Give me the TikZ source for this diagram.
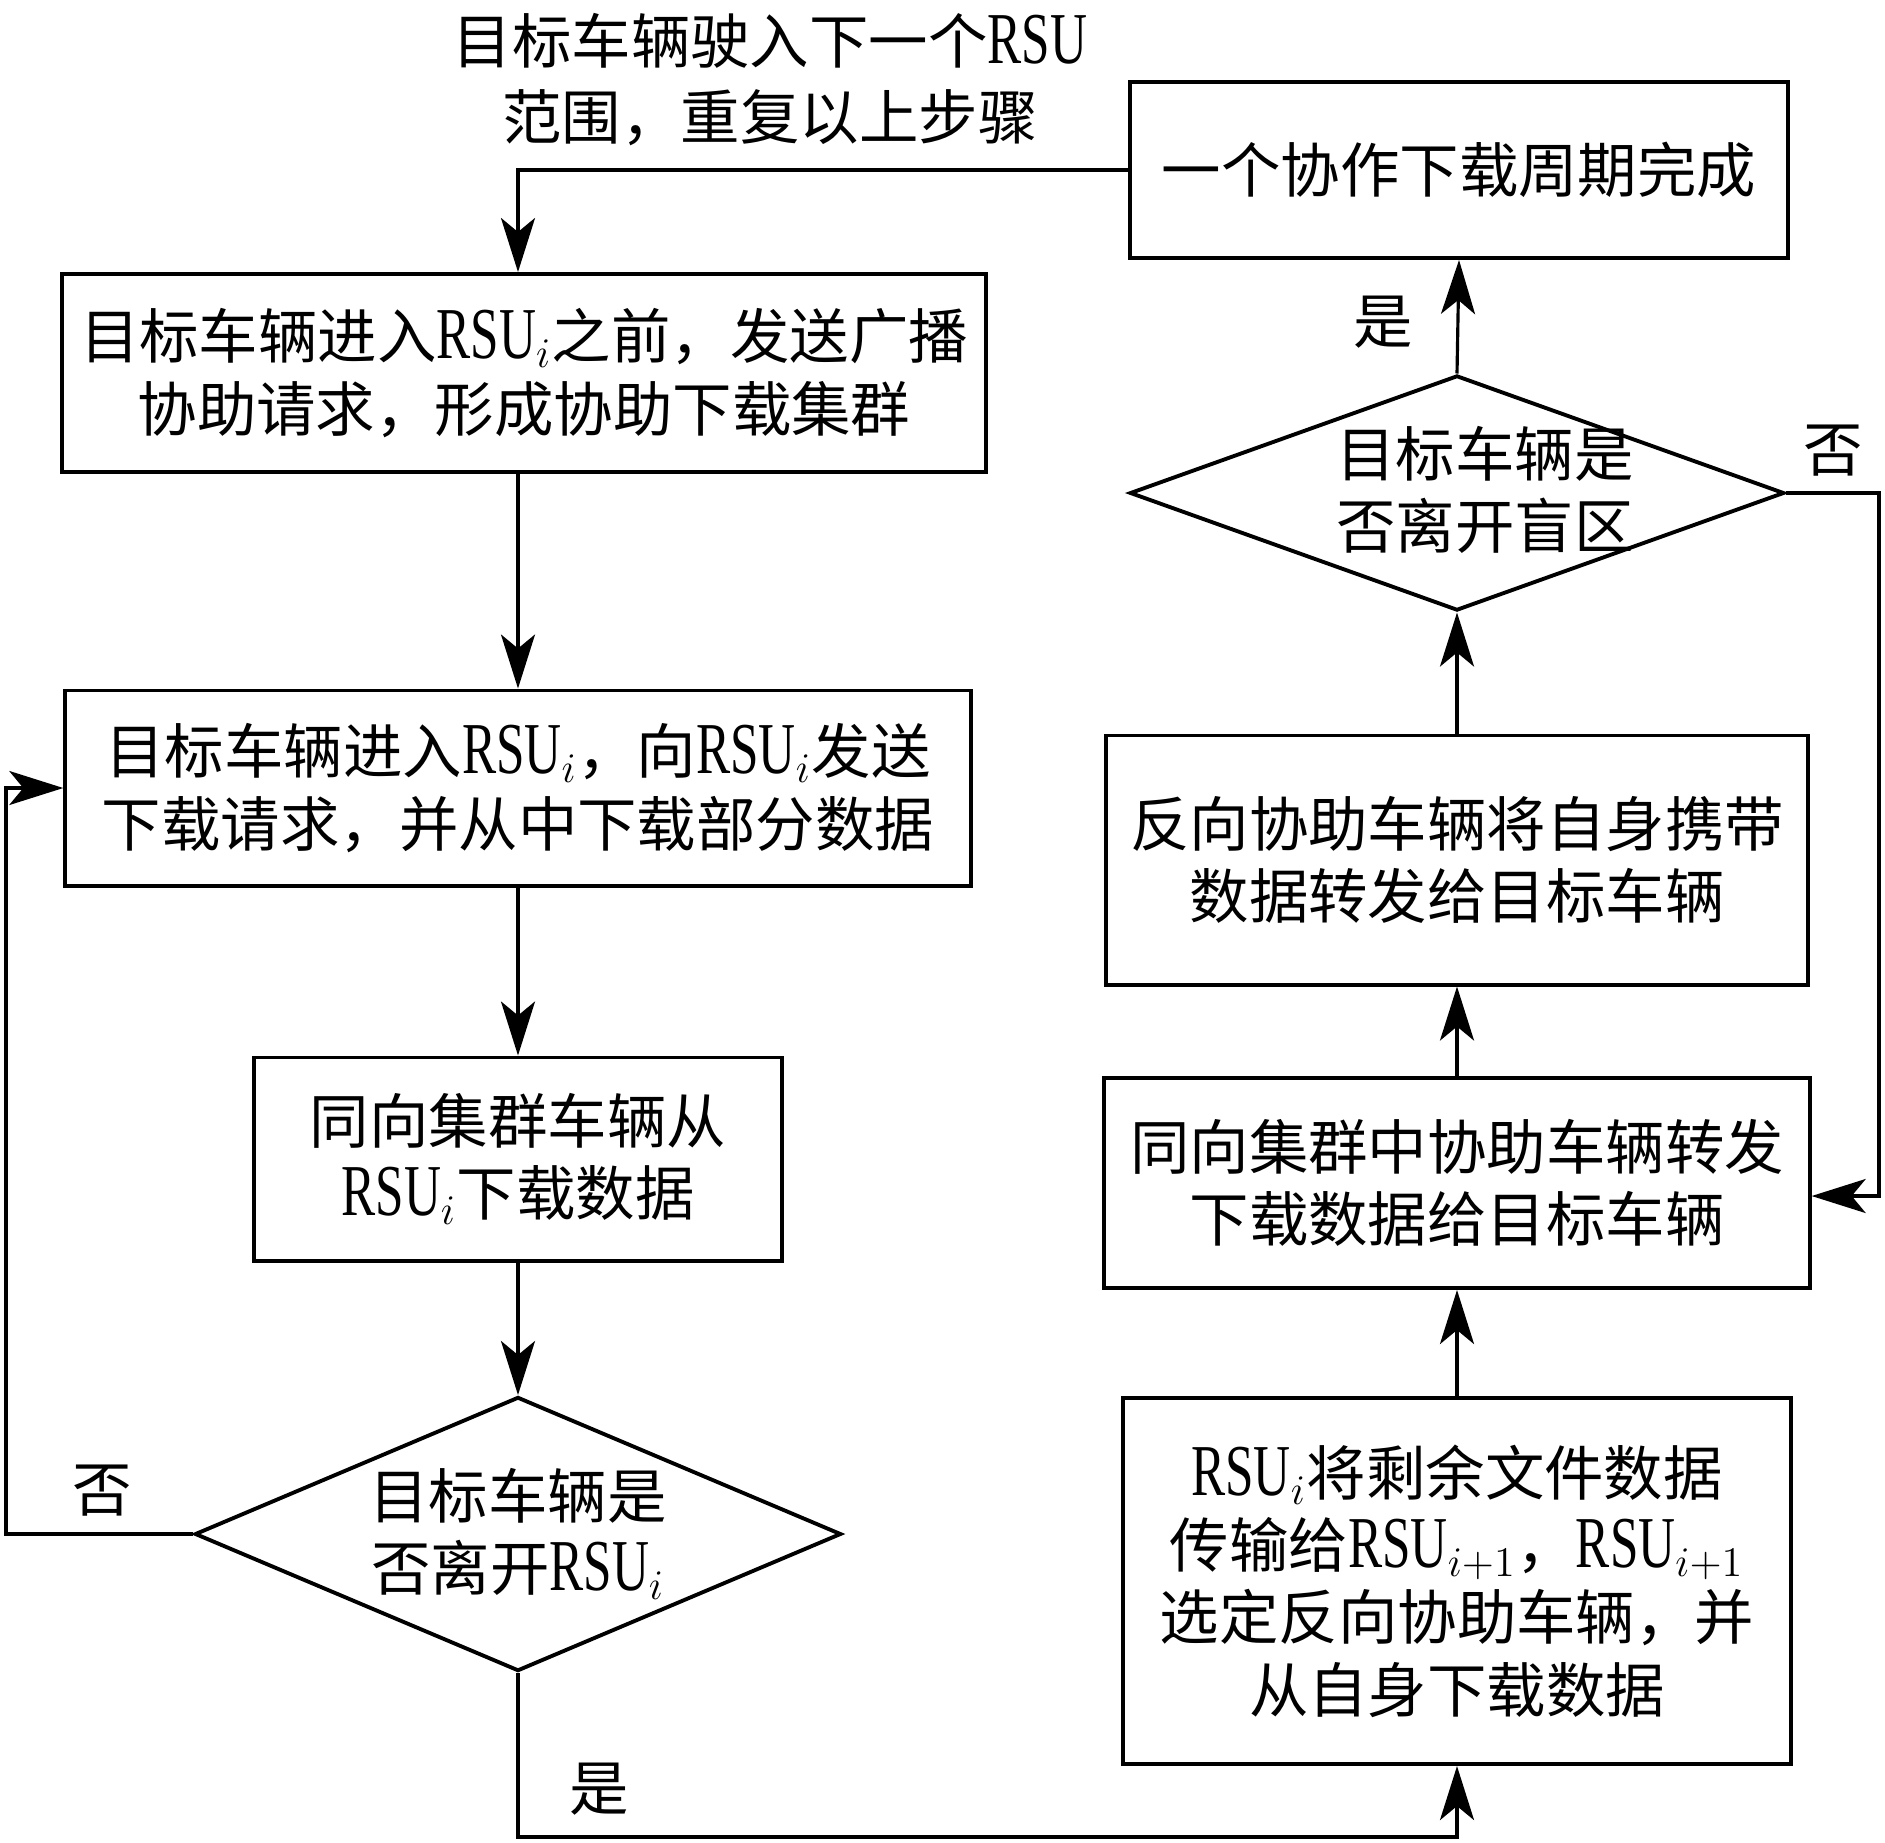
\documentclass[tikz,border=0pt]{standalone}
\usepackage{fontspec}
\setmainfont{Noto Sans CJK SC}
\newfontfamily\tms[Scale=1.23,FakeStretch=0.7]{Liberation Serif}
\usetikzlibrary{arrows.meta, positioning, shapes.geometric, calc}
\newcommand{\rsu}[1]{{\tms RSU}$_{#1}$}

\begin{document}
\begin{tikzpicture}[
        x=0.01cm, y=-0.01cm,
        every node/.style={font=\fontsize{16.9pt}{20.6pt}\selectfont, align=center, inner sep=0pt},
        box/.style={draw, line width=1.1pt},
        decide/.style={diamond, draw, line width=1.1pt, aspect=2.36},
        arr/.style={line width=0.9pt, -{Stealth[length=5.4mm, width=3.4mm, inset=1.4mm]}}
    ]
        \useasboundingbox (0,0) rectangle (1885,1842);

        % Cột trái
        \node (note) at (770,80) {目标车辆驶入下一个{\tms RSU}\\[1pt]范围，重复以上步骤};
        \node [box, minimum width=9.23cm, minimum height=1.98cm](A) at (524,373)
            {目标车辆进入\rsu{i}之前，发送广播\\协助请求，形成协助下载集群};
        \node [box, minimum width=9.05cm, minimum height=1.95cm](B) at (518,788)
            {目标车辆进入\rsu{i}，向\rsu{i}发送\\下载请求，并从中下载部分数据};
        \node [box, minimum width=5.28cm, minimum height=2.03cm](C) at (518,1159)
            {同向集群车辆从\\\rsu{i}下载数据};
        \node [decide, minimum width=6.46cm, minimum height=2.74cm](D1) at (518,1534)
            {目标车辆是\\否离开\rsu{i}};

        % Cột phải
        \node [box, minimum width=6.67cm, minimum height=3.66cm](E) at (1457,1581)
            {\rsu{i}将剩余文件数据\\传输给\rsu{i+1}，\rsu{i+1}\\选定反向协助车辆，并\\从自身下载数据};
        \node [box, minimum width=7.05cm, minimum height=2.10cm](F) at (1457,1183)
            {同向集群中协助车辆转发\\下载数据给目标车辆};
        \node [box, minimum width=7.02cm, minimum height=2.49cm](G) at (1457,860)
            {反向协助车辆将自身携带\\数据转发给目标车辆};
        \node [decide, minimum width=6.54cm, minimum height=2.35cm](D2) at (1457,493) {};
        \node (D2text) at (1485,490) {目标车辆是\\否离开盲区};
        \node [box, minimum width=6.58cm, minimum height=1.76cm](done) at (1459,170)
            {一个协作下载周期完成};

        % Nhãn
        \node (yes2) at (1383,322) {是};
        \node (no2) at (1833,451) {否};
        \node (no1) at (102,1491) {否};
        \node (yes1) at (599,1789) {是};

        \coordinate (lx) at (6,0);
        \coordinate (by) at (0,1837);
        \coordinate (rx) at (1879,1196);

        % Các mũi tên
        \draw[arr] (done.west) -| (B.north |- A.north);
        \draw[arr] (A.south -| B) -- (B.north);
        \draw[arr] (B.south) -- (C.north);
        \draw[arr] (C.south) -- (D1.north);
        \draw[arr] (D1.west) -- (D1.west -| lx) |- (B.west);
        \draw[arr] (D1.south) |- (by -| E) -- (E.south);
        \draw[arr] (E.north) -- (F.south);
        \draw[arr] (F.north) -- (G.south);
        \draw[arr] (G.north) -- (D2.south);
        \draw[arr] (D2.north) -- (done.south);
        \draw[arr] (D2.east) -| (rx) -- (rx -| F.east);
    \end{tikzpicture}
\end{document}
